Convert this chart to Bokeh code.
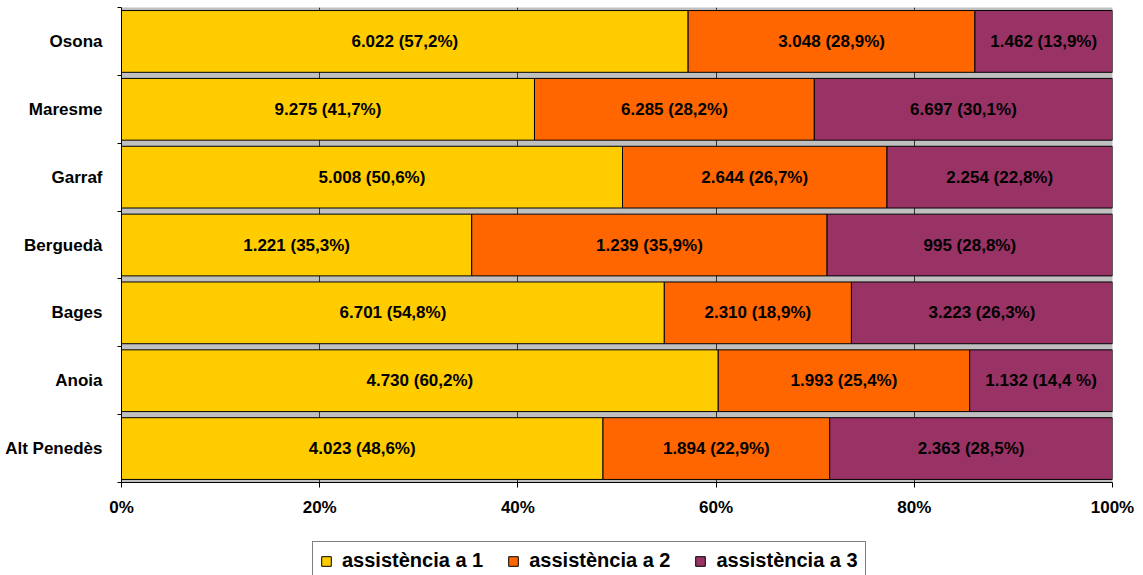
from bokeh.plotting import figure
from bokeh.layouts import column
from bokeh.models import (ColumnDataSource, FixedTicker, NumeralTickFormatter,
                          Range1d, Legend, LegendItem)
from bokeh.embed import file_html
from bokeh.resources import INLINE
from bokeh.core.properties import value

# ---- data (bottom to top) ----
categories = ["Alt Penedès", "Anoia", "Bages", "Berguedà", "Garraf", "Maresme", "Osona"]
series_names = ["assistència a 1", "assistència a 2", "assistència a 3"]
a1 = [4023, 4730, 6701, 1221, 5008, 9275, 6022]
a2 = [1894, 1993, 2310, 1239, 2644, 6285, 3048]
a3 = [2363, 1132, 3223, 995, 2254, 6697, 1462]
a1_pct = ["48,6%", "60,2%", "54,8%", "35,3%", "50,6%", "41,7%", "57,2%"]
a2_pct = ["22,9%", "25,4%", "18,9%", "35,9%", "26,7%", "28,2%", "28,9%"]
a3_pct = ["28,5%", "14,4 %", "26,3%", "28,8%", "22,8%", "30,1%", "13,9%"]
x_ticks = [0, 0.2, 0.4, 0.6, 0.8, 1.0]

colors = ["#FFCC00", "#FF6600", "#993366"]
FONT = "Liberation Sans"

series = [a1, a2, a3]
pcts = [a1_pct, a2_pct, a3_pct]
totals = [x + y + z for x, y, z in zip(a1, a2, a3)]
ys = list(range(len(categories)))


def fmt(n):
    return f"{n:,}".replace(",", ".")


p = figure(width=1143, height=530, x_range=Range1d(0, 1), y_range=Range1d(-0.5, 6.5),
           output_backend="svg", toolbar_location=None,
           min_border_left=121, min_border_right=31, min_border_top=7, min_border_bottom=48)
p.background_fill_color = "#C0C0C0"
p.outline_line_color = None

# legend strip (separate figure below the chart; its view window shows no bars)
pl_ = figure(width=1143, height=45, x_range=Range1d(0, 1), y_range=Range1d(100, 101),
             output_backend="svg", toolbar_location=None,
             x_axis_location=None, y_axis_location=None,
             min_border_left=0, min_border_right=0, min_border_top=0, min_border_bottom=0)
pl_.outline_line_color = None
pl_.xgrid.visible = False
pl_.ygrid.visible = False

cum = [0.0] * len(categories)
keys = []
for vals, pl, col in zip(series, pcts, colors):
    left = list(cum)
    right = [c + v / t for c, v, t in zip(cum, vals, totals)]
    cum = right
    src = ColumnDataSource(dict(
        y=ys, left=left, right=right,
        xm=[(l + r) / 2 for l, r in zip(left, right)],
        label=[f"{fmt(v)} ({s})" for v, s in zip(vals, pl)],
    ))
    p.hbar(y="y", left="left", right="right", height=0.91, source=src,
           fill_color=col, line_color="black", line_width=1)
    p.text(x="xm", y="y", text="label", source=src, text_align="center",
           text_baseline="middle", text_font=value(FONT), text_font_style="bold",
           text_font_size="17px", text_color="black")
    keys.append(pl_.hbar(y="y", left="left", right="right", height=0.91, source=src,
                         fill_color=col, line_color="black", line_width=1))

# grid
p.ygrid.visible = False
p.xgrid.ticker = FixedTicker(ticks=x_ticks)
p.xgrid.grid_line_color = "#333333"

# x axis
xa = p.xaxis[0]
xa.ticker = FixedTicker(ticks=x_ticks)
xa.formatter = NumeralTickFormatter(format="0%")
xa.major_tick_in = 0
xa.major_tick_out = 5
xa.minor_tick_out = 0
xa.axis_line_color = "black"
xa.major_tick_line_color = "black"
xa.major_label_standoff = 10
xa.major_label_text_font = FONT
xa.major_label_text_font_style = "bold"
xa.major_label_text_font_size = "17px"
xa.major_label_text_color = "black"

# y axis
ya = p.yaxis[0]
ya.ticker = FixedTicker(ticks=ys, minor_ticks=[i - 0.5 for i in range(len(categories) + 1)])
ya.major_label_overrides = {i: c for i, c in enumerate(categories)}
ya.major_tick_in = 0
ya.major_tick_out = 0
ya.minor_tick_in = 0
ya.minor_tick_out = 4
ya.minor_tick_line_color = "black"
ya.axis_line_color = "black"
ya.major_label_standoff = 15
ya.major_label_text_font = FONT
ya.major_label_text_font_style = "bold"
ya.major_label_text_font_size = "17px"
ya.major_label_text_color = "black"

legend = Legend(
    items=[LegendItem(label=n, renderers=[r]) for n, r in zip(series_names, keys)],
    orientation="horizontal", location=(191, -5),
    glyph_width=12, glyph_height=12, label_standoff=10, spacing=24, padding=7,
    margin=0, border_line_color="black", border_line_width=1,
    label_text_font=FONT, label_text_font_style="bold", label_text_font_size="20px",
    label_text_color="black", background_fill_color="white", background_fill_alpha=1.0,
)
pl_.add_layout(legend)

layout = column(p, pl_, spacing=0)
open("out.html", "w").write(file_html(layout, INLINE))
